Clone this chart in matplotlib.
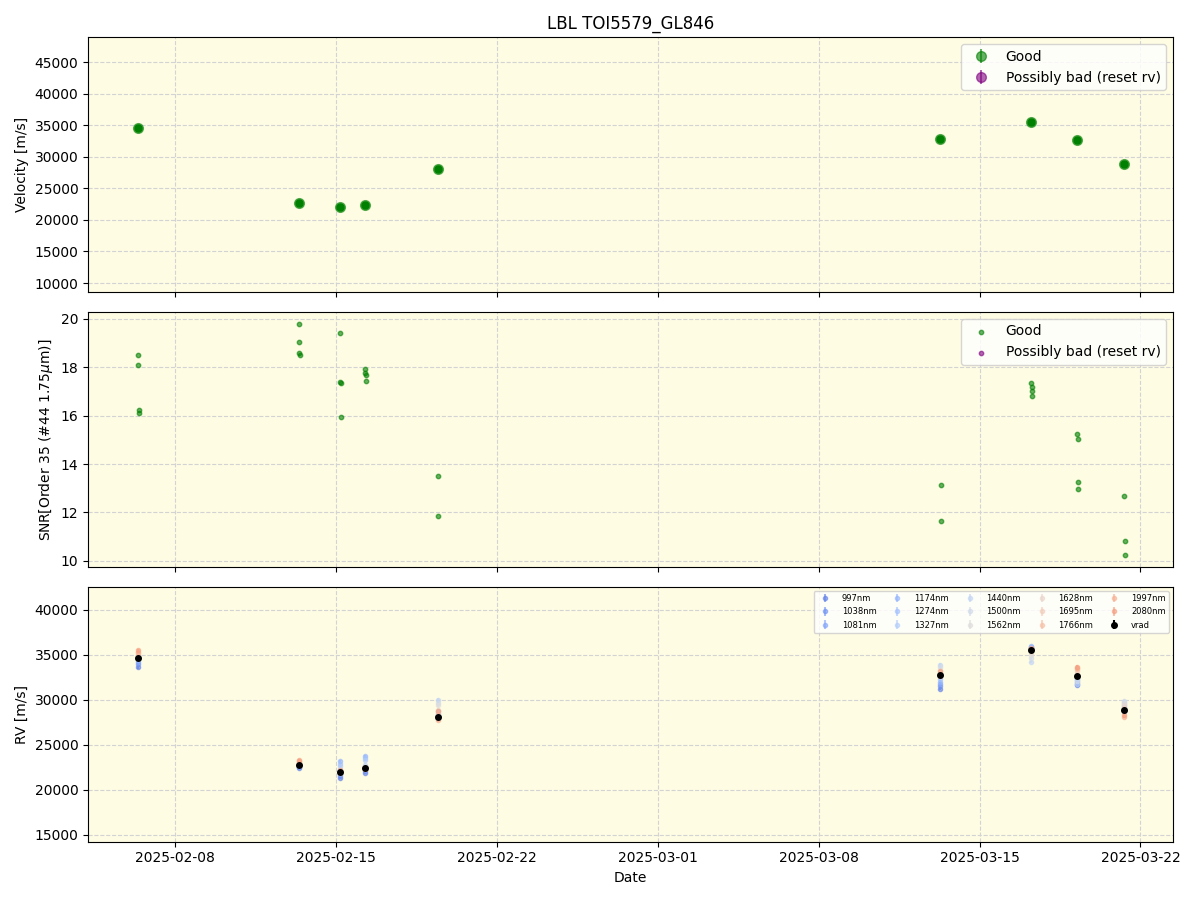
import numpy as np
import pandas as pd
import matplotlib
matplotlib.use('Agg')
import matplotlib.pyplot as plt
import matplotlib.cm as cm

# epochs (nightly) and velocities
epochs = ['2025-02-06 09:00', '2025-02-13 09:00', '2025-02-15 04:00', '2025-02-16 06:00',
          '2025-02-19 10:00', '2025-03-13 07:00', '2025-03-17 06:00', '2025-03-19 06:00',
          '2025-03-21 07:00']
vrad = [34600, 22700, 22000, 22400, 28100, 32800, 35500, 32700, 28900]
vrad_err = [150, 150, 150, 150, 150, 150, 150, 150, 150]

# SNR per exposure
snr_epoch = [0, 0, 0, 0, 1, 1, 1, 1, 2, 2, 2, 2, 3, 3, 3, 3, 4, 4, 5, 5,
             6, 6, 6, 6, 7, 7, 7, 7, 8, 8, 8]
snr_vals = [18.5, 18.1, 16.25, 16.1, 19.8, 19.05, 18.6, 18.5, 19.4, 17.4, 17.35, 15.95,
            17.95, 17.75, 17.7, 17.45, 13.5, 11.85, 13.15, 11.65,
            17.35, 17.2, 17.0, 16.8, 15.25, 15.05, 13.25, 12.95, 12.7, 10.8, 10.25]

wavelengths = ['997nm', '1038nm', '1081nm', '1174nm', '1274nm', '1327nm', '1440nm', '1500nm',
               '1562nm', '1628nm', '1695nm', '1766nm', '1997nm', '2080nm']
# per-band RV per epoch (m/s)
rv_band = [
    [33600, 34000, 34200, 34400, 34600, 34700, 34800, 34700, 34600, 34800, 35000, 35200, 35300, 35500],
    [22400, 22500, 22600, 22600, 22700, 22700, 22800, 22700, 22800, 22900, 23000, 23100, 23200, 23300],
    [21300, 21500, 21700, 23200, 22900, 22600, 22300, 22100, 22000, 22000, 21900, 22000, 22100, 22200],
    [21900, 22100, 22300, 23700, 23500, 23300, 22800, 22600, 22500, 22400, 22400, 22300, 22300, 22400],
    [28000, 28100, 28200, 28300, 28500, 28700, 30000, 29700, 29400, 28900, 28400, 28000, 27700, 28700],
    [31200, 31500, 31800, 32000, 32300, 32600, 33900, 33600, 33300, 33000, 32800, 32600, 32900, 33200],
    [35700, 35800, 35900, 36000, 35900, 35700, 34200, 34600, 35000, 35300, 35500, 35600, 35700, 35800],
    [31600, 31800, 32000, 32200, 32400, 32300, 31800, 32100, 32500, 32900, 33200, 33400, 33500, 33700],
    [28700, 28800, 28900, 29100, 29300, 29500, 29800, 29900, 29700, 29400, 29100, 28800, 28100, 28300],
]

t = pd.to_datetime(epochs)
t_snr = [t[i] + pd.Timedelta(minutes=20 * (k % 4)) for k, i in enumerate(snr_epoch)]

fig, axes = plt.subplots(3, 1, figsize=(12, 9), dpi=100, sharex=True)
for ax in axes:
    ax.set_facecolor('#fefce3')
    ax.grid(True, ls='--', color='lightgray')
    ax.set_axisbelow(True)

ax = axes[0]
ax.errorbar(t, vrad, yerr=vrad_err, fmt='o', color='green', alpha=0.6, ms=7, label='Good')
ax.errorbar(t, vrad, yerr=vrad_err, fmt='o', color='green', ms=5)
ax.errorbar([], [], yerr=[], fmt='o', color='purple', alpha=0.6, ms=7, label='Possibly bad (reset rv)')
ax.set_ylabel('Velocity [m/s]')
ax.set_ylim(8570, 48980)
ax.set_title('LBL TOI5579_GL846')
ax.legend(loc='upper right')

ax = axes[1]
ax.scatter(t_snr, snr_vals, s=10, color='green', alpha=0.6, label='Good')
ax.scatter([], [], s=10, color='purple', alpha=0.6, label='Possibly bad (reset rv)')
ax.set_ylabel('SNR[Order 35 (#44 1.75$\\mu$m)]')
ax.set_ylim(9.75, 20.29)
ax.legend(loc='upper right')

ax = axes[2]
cmap = cm.coolwarm
for j, wl in enumerate(wavelengths):
    vals = [row[j] for row in rv_band]
    ax.errorbar(t, vals, yerr=150, fmt='o', ms=3,
                color=cmap(0.12 + 0.62 * j / (len(wavelengths) - 1)),
                alpha=0.6, label=wl)
ax.errorbar(t, vrad, yerr=vrad_err, fmt='o', ms=4, color='black', label='vrad')
ax.set_ylabel('RV [m/s]')
ax.set_ylim(14210, 42580)
ax.set_xlabel('Date')
ax.legend(loc='upper right', ncol=5, fontsize=6, handletextpad=1.0, columnspacing=1.5)

axes[2].set_xlim(pd.Timestamp('2025-02-04 05:00'), pd.Timestamp('2025-03-23 10:00'))
axes[2].set_xticks(pd.to_datetime(['2025-02-08', '2025-02-15', '2025-02-22', '2025-03-01',
                                   '2025-03-08', '2025-03-15', '2025-03-22']))
axes[2].xaxis.set_major_formatter(matplotlib.dates.DateFormatter('%Y-%m-%d'))

plt.tight_layout()
plt.savefig('out.png')
